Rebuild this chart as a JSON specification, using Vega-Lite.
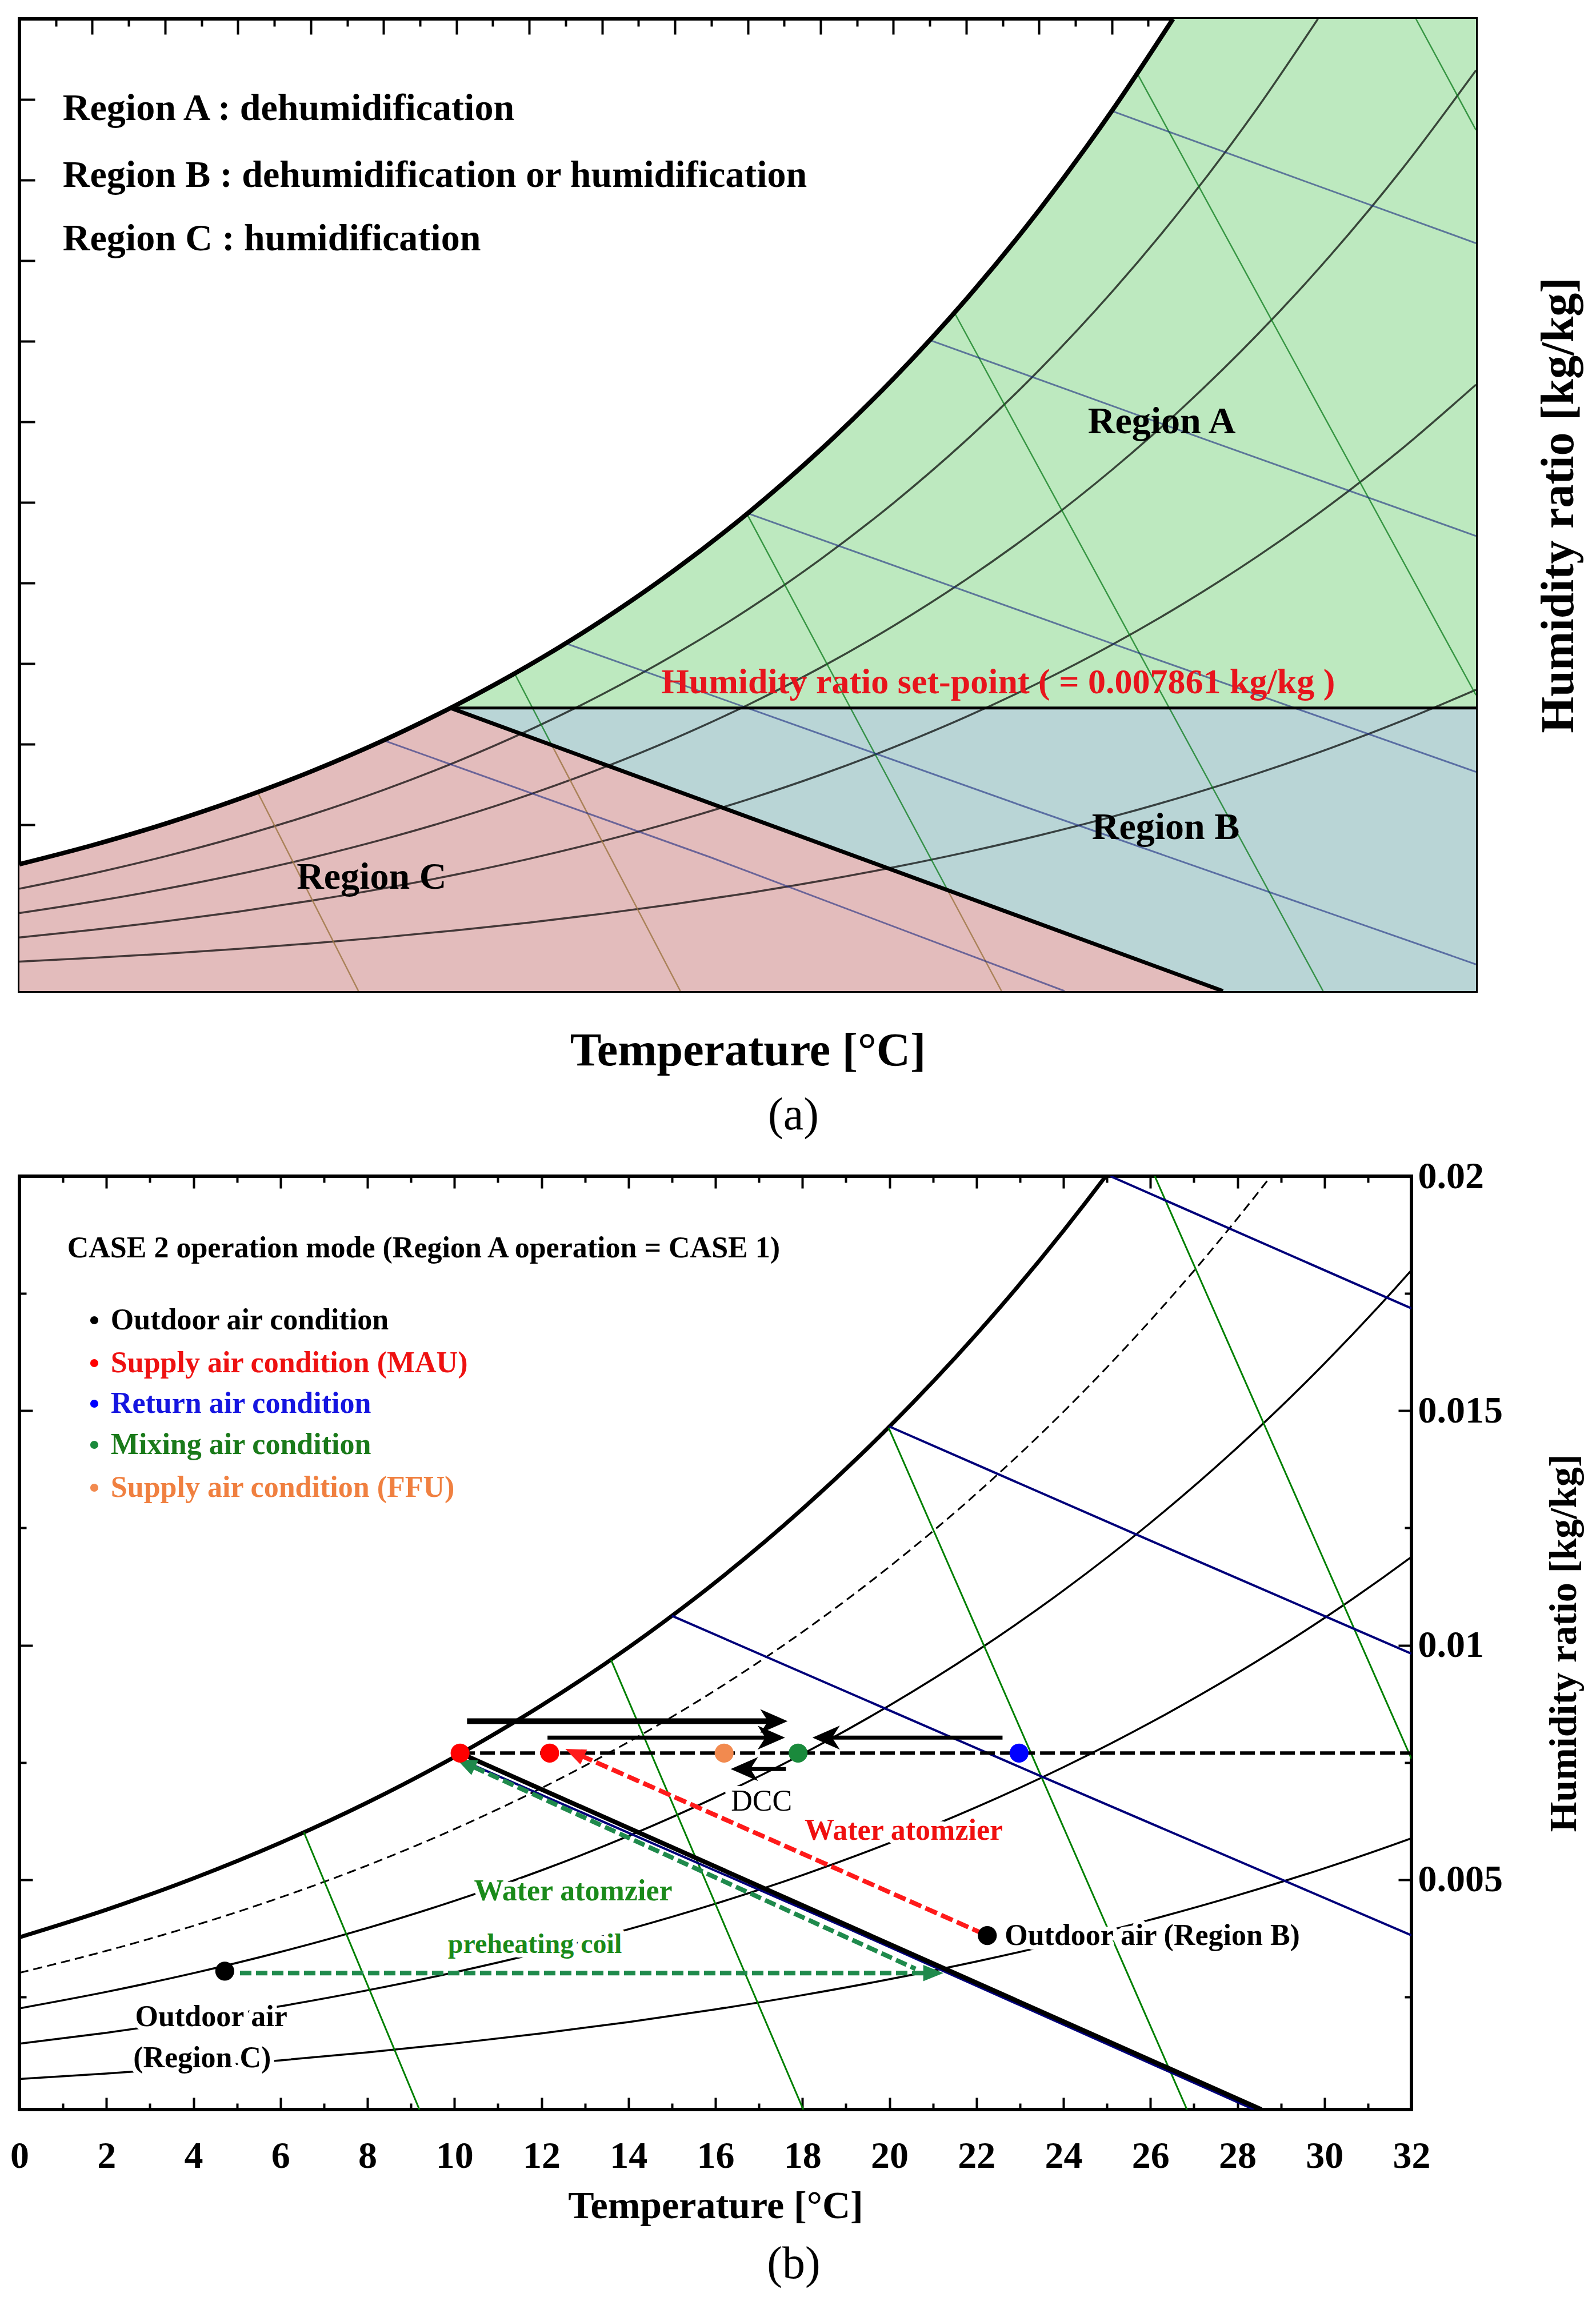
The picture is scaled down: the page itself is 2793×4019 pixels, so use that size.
{
"$schema":"https://vega.github.io/schema/vega-lite/v6.json",
"background":"white",
"padding":{"left":14,"top":28,"right":5,"bottom":5},
"spacing":27,
"resolve":{"scale":{"color":"independent"}},
"config":{
 "view":{"stroke":"black","strokeWidth":6},
 "axis":{"grid":false,"domain":false,"tickColor":"black","tickWidth":4,"labelFont":"Liberation Serif","labelFontWeight":"bold","labelColor":"black","titleFont":"Liberation Serif","titleFontWeight":"bold","titleColor":"black","labelFlush":false,"labelOverlap":false,"labelBound":false},
 "title":{"font":"Liberation Serif"}
},
"datasets":{
 "rh":[
  {"id":"100","T":0,"w":0.003773},{"id":"100","T":2,"w":0.004361},{"id":"100","T":4,"w":0.005029},{"id":"100","T":6,"w":0.005788},{"id":"100","T":8,"w":0.006647},{"id":"100","T":10,"w":0.007618},{"id":"100","T":12,"w":0.008715},{"id":"100","T":14,"w":0.009951},{"id":"100","T":16,"w":0.011342},{"id":"100","T":18,"w":0.012906},{"id":"100","T":20,"w":0.014662},{"id":"100","T":22,"w":0.01663},{"id":"100","T":24,"w":0.018835},{"id":"100","T":26,"w":0.021302},{"id":"100","T":28,"w":0.02406},{"id":"100","T":30,"w":0.027143},{"id":"100","T":31.68,"w":0.03},
  {"id":"80","T":0,"w":0.003015},{"id":"80","T":2,"w":0.003484},{"id":"80","T":4,"w":0.004017},{"id":"80","T":6,"w":0.004622},{"id":"80","T":8,"w":0.005306},{"id":"80","T":10,"w":0.00608},{"id":"80","T":12,"w":0.006953},{"id":"80","T":14,"w":0.007936},{"id":"80","T":16,"w":0.009041},{"id":"80","T":18,"w":0.010282},{"id":"80","T":20,"w":0.011674},{"id":"80","T":22,"w":0.013233},{"id":"80","T":24,"w":0.014977},{"id":"80","T":26,"w":0.016926},{"id":"80","T":28,"w":0.0191},{"id":"80","T":30,"w":0.021526},{"id":"80","T":32,"w":0.024228},{"id":"80","T":34,"w":0.027238},{"id":"80","T":35.66,"w":0.03},
  {"id":"60","T":0,"w":0.002258},{"id":"60","T":2,"w":0.002609},{"id":"60","T":4,"w":0.003008},{"id":"60","T":6,"w":0.00346},{"id":"60","T":8,"w":0.003971},{"id":"60","T":10,"w":0.004549},{"id":"60","T":12,"w":0.0052},{"id":"60","T":14,"w":0.005933},{"id":"60","T":16,"w":0.006756},{"id":"60","T":18,"w":0.00768},{"id":"60","T":20,"w":0.008715},{"id":"60","T":22,"w":0.009873},{"id":"60","T":24,"w":0.011166},{"id":"60","T":26,"w":0.012609},{"id":"60","T":28,"w":0.014216},{"id":"60","T":30,"w":0.016006},{"id":"60","T":32,"w":0.017996},{"id":"60","T":34,"w":0.020207},{"id":"60","T":36,"w":0.022661},{"id":"60","T":38,"w":0.025384},{"id":"60","T":40,"w":0.028403},
  {"id":"40","T":0,"w":0.001504},{"id":"40","T":2,"w":0.001737},{"id":"40","T":4,"w":0.002002},{"id":"40","T":6,"w":0.002302},{"id":"40","T":8,"w":0.002642},{"id":"40","T":10,"w":0.003025},{"id":"40","T":12,"w":0.003457},{"id":"40","T":14,"w":0.003943},{"id":"40","T":16,"w":0.004488},{"id":"40","T":18,"w":0.005099},{"id":"40","T":20,"w":0.005783},{"id":"40","T":22,"w":0.006547},{"id":"40","T":24,"w":0.0074},{"id":"40","T":26,"w":0.008349},{"id":"40","T":28,"w":0.009406},{"id":"40","T":30,"w":0.01058},{"id":"40","T":32,"w":0.011883},{"id":"40","T":34,"w":0.013327},{"id":"40","T":36,"w":0.014926},{"id":"40","T":38,"w":0.016696},{"id":"40","T":40,"w":0.018652},
  {"id":"20","T":0,"w":0.000751},{"id":"20","T":2,"w":0.000867},{"id":"20","T":4,"w":0.000999},{"id":"20","T":6,"w":0.001149},{"id":"20","T":8,"w":0.001318},{"id":"20","T":10,"w":0.001509},{"id":"20","T":12,"w":0.001724},{"id":"20","T":14,"w":0.001965},{"id":"20","T":16,"w":0.002236},{"id":"20","T":18,"w":0.002539},{"id":"20","T":20,"w":0.002878},{"id":"20","T":22,"w":0.003256},{"id":"20","T":24,"w":0.003678},{"id":"20","T":26,"w":0.004147},{"id":"20","T":28,"w":0.004668},{"id":"20","T":30,"w":0.005245},{"id":"20","T":32,"w":0.005885},{"id":"20","T":34,"w":0.006593},{"id":"20","T":36,"w":0.007375},{"id":"20","T":38,"w":0.008237},{"id":"20","T":40,"w":0.009188}
 ],
 "a_regions":[
  {"region":"A","T":11.84,"top":0.00862,"bot":0.00862},{"region":"A","T":12,"top":0.008715,"bot":0.00862},{"region":"A","T":14,"top":0.009951,"bot":0.00862},{"region":"A","T":16,"top":0.011342,"bot":0.00862},{"region":"A","T":18,"top":0.012906,"bot":0.00862},{"region":"A","T":20,"top":0.014662,"bot":0.00862},{"region":"A","T":22,"top":0.01663,"bot":0.00862},{"region":"A","T":24,"top":0.018835,"bot":0.00862},{"region":"A","T":26,"top":0.021302,"bot":0.00862},{"region":"A","T":28,"top":0.02406,"bot":0.00862},{"region":"A","T":30,"top":0.027143,"bot":0.00862},{"region":"A","T":31.68,"top":0.03,"bot":0.00862},{"region":"A","T":40,"top":0.03,"bot":0.00862},
  {"region":"B","T":11.84,"top":0.00862,"bot":0.00862},{"region":"B","T":33.05,"top":0.00862,"bot":-0.00016},{"region":"B","T":40,"top":0.00862,"bot":-0.00016},
  {"region":"C","T":0,"top":0.003773,"bot":-0.00016},{"region":"C","T":2,"top":0.004361,"bot":-0.00016},{"region":"C","T":4,"top":0.005029,"bot":-0.00016},{"region":"C","T":6,"top":0.005788,"bot":-0.00016},{"region":"C","T":8,"top":0.006647,"bot":-0.00016},{"region":"C","T":10,"top":0.007618,"bot":-0.00016},{"region":"C","T":11.84,"top":0.00862,"bot":-0.00016},{"region":"C","T":33.05,"top":-0.00016,"bot":-0.00016}
 ],
 "a_lines":[
  {"k":"h","id":"h10","T":10,"w":0.007618},{"k":"h","id":"h10","T":19,"w":0.00398},{"k":"h","id":"h10","T":28.7,"w":-0.00016},
  {"k":"h","id":"h15","T":15,"w":0.010627},{"k":"h","id":"h15","T":27.5,"w":0.005603},{"k":"h","id":"h15","T":40,"w":0.000669},
  {"k":"h","id":"h20","T":20,"w":0.014662},{"k":"h","id":"h20","T":30,"w":0.010621},{"k":"h","id":"h20","T":40,"w":0.006638},
  {"k":"h","id":"h25","T":25,"w":0.020034},{"k":"h","id":"h25","T":32.5,"w":0.016979},{"k":"h","id":"h25","T":40,"w":0.013958},
  {"k":"h","id":"h30","T":30,"w":0.027143},{"k":"h","id":"h30","T":35,"w":0.025085},{"k":"h","id":"h30","T":40,"w":0.023041},
  {"k":"vt","id":"v800","T":6.54,"w":0.00601},{"k":"vt","id":"v800","T":9.31,"w":-0.00016},
  {"k":"vg","id":"v825a","T":13.6,"w":0.00969},{"k":"vg","id":"v825a","T":14.62,"w":0.00747},
  {"k":"vt","id":"v825b","T":14.62,"w":0.00747},{"k":"vt","id":"v825b","T":18.15,"w":-0.00016},
  {"k":"vg","id":"v850a","T":19.98,"w":0.01464},{"k":"vg","id":"v850a","T":25.49,"w":0.00297},
  {"k":"vt","id":"v850b","T":25.49,"w":0.00297},{"k":"vt","id":"v850b","T":26.97,"w":-0.00016},
  {"k":"vg","id":"v875","T":25.67,"w":0.0209},{"k":"vg","id":"v875","T":35.8,"w":-0.00016},
  {"k":"vg","id":"v900","T":30.7,"w":0.0283},{"k":"vg","id":"v900","T":40,"w":0.00902},
  {"k":"vg","id":"v925","T":38.35,"w":0.03},{"k":"vg","id":"v925","T":40,"w":0.02655},
  {"k":"sp","id":"sp","T":11.84,"w":0.00862},{"k":"sp","id":"sp","T":40,"w":0.00862},
  {"k":"bd","id":"bd","T":11.84,"w":0.00862},{"k":"bd","id":"bd","T":33.05,"w":-0.00016}
 ],
 "a_text":[
  {"role":"list","T":1.19,"w":0.027225,"text":"Region A : dehumidification"},
  {"role":"list","T":1.19,"w":0.025141,"text":"Region B : dehumidification or humidification"},
  {"role":"list","T":1.19,"w":0.023182,"text":"Region C : humidification"},
  {"role":"region","T":31.37,"w":0.0175,"text":"Region A"},
  {"role":"region","T":31.48,"w":0.00491,"text":"Region B"},
  {"role":"region","T":9.67,"w":0.00337,"text":"Region C"},
  {"role":"setpoint","T":26.88,"w":0.00941,"text":"Humidity ratio set-point ( = 0.007861 kg/kg )"}
 ],
 "b_lines":[
  {"k":"h","id":"h10","T":10,"w":0.007618},{"k":"h","id":"h10","T":19,"w":0.00398},{"k":"h","id":"h10","T":28.38,"w":0.0001},
  {"k":"h","id":"h15","T":15,"w":0.010627},{"k":"h","id":"h15","T":23.5,"w":0.0072},{"k":"h","id":"h15","T":32,"w":0.003816},
  {"k":"h","id":"h20","T":20,"w":0.014662},{"k":"h","id":"h20","T":26,"w":0.01223},{"k":"h","id":"h20","T":32,"w":0.00982},
  {"k":"h","id":"h25","T":25.08,"w":0.02},{"k":"h","id":"h25","T":32,"w":0.017182},
  {"k":"v","id":"v800","T":6.54,"w":0.00601},{"k":"v","id":"v800","T":9.195,"w":0.0001},
  {"k":"v","id":"v825","T":13.6,"w":0.00969},{"k":"v","id":"v825","T":18.02,"w":0.0001},
  {"k":"v","id":"v850","T":19.98,"w":0.01464},{"k":"v","id":"v850","T":26.84,"w":0.0001},
  {"k":"v","id":"v875","T":26.1,"w":0.02},{"k":"v","id":"v875","T":32,"w":0.00758},
  {"k":"bd","id":"bd","T":10.13,"w":0.0077},{"k":"bd","id":"bd","T":28.55,"w":0.0001},
  {"k":"sp","id":"sp","T":10.13,"w":0.0077},{"k":"sp","id":"sp","T":32,"w":0.0077}
 ],
 "b_arrows":[
  {"k":"black1","id":"a1","T":10.29,"w":0.00838},{"k":"black1","id":"a1","T":17.3,"w":0.00838},
  {"k":"black","id":"a2","T":12.14,"w":0.00803},{"k":"black","id":"a2","T":17.25,"w":0.00803},
  {"k":"black","id":"a3","T":18.6,"w":0.00803},{"k":"black","id":"a3","T":22.6,"w":0.00803},
  {"k":"black","id":"a4","T":16.7,"w":0.00736},{"k":"black","id":"a4","T":17.62,"w":0.00736},
  {"k":"red","id":"r","T":12.9,"w":0.00765},{"k":"red","id":"r","T":22.25,"w":0.00381},
  {"k":"green","id":"g1","T":10.45,"w":0.0074},{"k":"green","id":"g1","T":20.6,"w":0.0031},
  {"k":"green","id":"g2","T":5.07,"w":0.00301},{"k":"green","id":"g2","T":20.8,"w":0.00301}
 ],
 "b_heads":[
  {"dir":"blackright","T":17.66,"w":0.00838},
  {"dir":"blackright","T":17.6,"w":0.00803},
  {"dir":"blackleft","T":18.23,"w":0.00803},
  {"dir":"blackleft","T":16.35,"w":0.00736},
  {"dir":"red","T":12.55,"w":0.00779},
  {"dir":"greendiag","T":10.05,"w":0.00757},
  {"dir":"greenright","T":21.24,"w":0.00301}
 ],
 "b_points":[
  {"state":"mau","T":10.13,"w":0.0077},{"state":"mau","T":12.19,"w":0.0077},{"state":"ffu","T":16.2,"w":0.0077},{"state":"mixing","T":17.9,"w":0.0077},{"state":"return","T":22.98,"w":0.0077},{"state":"outdoor","T":4.72,"w":0.00305},{"state":"outdoor","T":22.25,"w":0.00381}
 ],
 "b_legend":[
  {"state":"outdoor","Td":1.72,"Tt":2.1,"w":0.016929,"text":"Outdoor air condition"},
  {"state":"mau","Td":1.72,"Tt":2.1,"w":0.016015,"text":"Supply air condition (MAU)"},
  {"state":"return","Td":1.72,"Tt":2.1,"w":0.01515,"text":"Return air condition"},
  {"state":"mixing","Td":1.72,"Tt":2.1,"w":0.014272,"text":"Mixing air condition"},
  {"state":"ffu","Td":1.72,"Tt":2.1,"w":0.013359,"text":"Supply air condition (FFU)"}
 ],
 "b_notes":[
  {"role":"case","T":1.1,"w":0.018465,"text":"CASE 2 operation mode (Region A operation = CASE 1)"},
  {"role":"dcc","T":17.06,"w":0.006668,"text":"DCC"},
  {"role":"atomr","T":20.33,"w":0.006047,"text":"Water atomzier"},
  {"role":"oab","T":22.65,"w":0.003804,"text":"Outdoor air (Region B)"},
  {"role":"atomg","T":12.73,"w":0.004755,"text":"Water atomzier"},
  {"role":"preheat","T":11.85,"w":0.00361,"text":"preheating coil"},
  {"role":"oac","T":4.41,"w":0.002074,"text":"Outdoor air"},
  {"role":"oac","T":4.2,"w":0.001197,"text":"(Region C)"}
 ]
},
"vconcat":[
 {
  "width":2549,"height":1701,
  "title":{"text":"(a)","orient":"bottom","anchor":"middle","fontSize":80,"fontWeight":"normal","font":"Liberation Serif","color":"black","offset":34,"dx":80},
  "layer":[
   {"data":{"name":"a_regions"},"mark":{"type":"area","clip":true},
    "encoding":{
     "x":{"field":"T","type":"quantitative","scale":{"domain":[0,40],"nice":false,"zero":false},
      "axis":{"orient":"bottom","values":[0,1,2,3,4,5,6,7,8,9,10,11,12,13,14,15,16,17,18,19,20,21,22,23,24,25,26,27,28,29,30,31,32,33,34,35,36,37,38,39,40],"labels":false,"tickSize":{"condition":{"test":"datum.value % 2 === 0","value":-27},"value":-13},"title":"Temperature [°C]","titleFontSize":82,"titlePadding":62}},
     "y":{"field":"top","type":"quantitative","stack":null,"scale":{"domain":[-0.00016,0.03],"nice":false,"zero":false},
      "axis":{"orient":"right","values":[0,0.0025,0.005,0.0075,0.01,0.0125,0.015,0.0175,0.02,0.0225,0.025,0.0275,0.03],"labels":false,"tickSize":-27,"title":"Humidity ratio [kg/kg]","titleFontSize":82,"titleAngle":270,"titleBaseline":"top","titleAlign":"center","titlePadding":102}},
     "y2":{"field":"bot"},
     "color":{"field":"region","type":"nominal","scale":{"domain":["A","B","C"],"range":["#bde9bf","#b9d5d6","#e3bcbc"]},"legend":null}
    }},
   {"data":{"name":"rh"},"transform":[{"filter":"datum.id != '100'"}],
    "mark":{"type":"line","color":"black","opacity":0.7,"strokeWidth":3.5,"interpolate":"monotone","clip":true},
    "encoding":{
     "x":{"field":"T","type":"quantitative","axis":{"orient":"top","values":[0,1,2,3,4,5,6,7,8,9,10,11,12,13,14,15,16,17,18,19,20,21,22,23,24,25,26,27,28,29,30,31,32,33,34,35,36,37,38,39,40],"labels":false,"tickSize":{"condition":{"test":"datum.value % 2 === 0","value":-27},"value":-13},"title":null}},
     "y":{"field":"w","type":"quantitative","axis":{"orient":"left","values":[0,0.0025,0.005,0.0075,0.01,0.0125,0.015,0.0175,0.02,0.0225,0.025,0.0275,0.03],"labels":false,"tickSize":-27,"title":null}},
     "detail":{"field":"id","type":"nominal"}
    }},
   {"data":{"name":"a_lines"},"transform":[{"filter":"datum.k == 'vg'"}],
    "mark":{"type":"line","color":"#0a7a1a","opacity":0.75,"strokeWidth":2.5,"clip":true},
    "encoding":{"x":{"field":"T","type":"quantitative","axis":null},"y":{"field":"w","type":"quantitative","axis":null},"detail":{"field":"id","type":"nominal"}}},
   {"data":{"name":"a_lines"},"transform":[{"filter":"datum.k == 'vt'"}],
    "mark":{"type":"line","color":"#a07848","opacity":0.85,"strokeWidth":2.5,"clip":true},
    "encoding":{"x":{"field":"T","type":"quantitative","axis":null},"y":{"field":"w","type":"quantitative","axis":null},"detail":{"field":"id","type":"nominal"}}},
   {"data":{"name":"a_lines"},"transform":[{"filter":"datum.k == 'h'"}],
    "mark":{"type":"line","color":"#1a2a80","opacity":0.6,"strokeWidth":3,"clip":true},
    "encoding":{"x":{"field":"T","type":"quantitative","axis":null},"y":{"field":"w","type":"quantitative","axis":null},"detail":{"field":"id","type":"nominal"}}},
   {"data":{"name":"a_lines"},"transform":[{"filter":"datum.k == 'sp'"}],
    "mark":{"type":"line","color":"black","strokeWidth":5,"clip":true},
    "encoding":{"x":{"field":"T","type":"quantitative","axis":null},"y":{"field":"w","type":"quantitative","axis":null}}},
   {"data":{"name":"a_lines"},"transform":[{"filter":"datum.k == 'bd'"}],
    "mark":{"type":"line","color":"black","strokeWidth":7,"clip":true},
    "encoding":{"x":{"field":"T","type":"quantitative","axis":null},"y":{"field":"w","type":"quantitative","axis":null}}},
   {"data":{"name":"rh"},"transform":[{"filter":"datum.id == '100'"}],
    "mark":{"type":"line","color":"black","strokeWidth":8,"interpolate":"monotone","clip":true},
    "encoding":{"x":{"field":"T","type":"quantitative","axis":null},"y":{"field":"w","type":"quantitative","axis":null}}},
   {"data":{"name":"a_text"},"transform":[{"filter":"datum.role == 'list'"}],
    "mark":{"type":"text","align":"left","baseline":"middle","font":"Liberation Serif","fontWeight":"bold","fontSize":66,"color":"black"},
    "encoding":{"x":{"field":"T","type":"quantitative","axis":null},"y":{"field":"w","type":"quantitative","axis":null},"text":{"field":"text"}}},
   {"data":{"name":"a_text"},"transform":[{"filter":"datum.role == 'region'"}],
    "mark":{"type":"text","align":"center","baseline":"middle","font":"Liberation Serif","fontWeight":"bold","fontSize":66,"color":"black"},
    "encoding":{"x":{"field":"T","type":"quantitative","axis":null},"y":{"field":"w","type":"quantitative","axis":null},"text":{"field":"text"}}},
   {"data":{"name":"a_text"},"transform":[{"filter":"datum.role == 'setpoint'"}],
    "mark":{"type":"text","align":"center","baseline":"middle","font":"Liberation Serif","fontWeight":"bold","fontSize":62,"color":"#e8141c"},
    "encoding":{"x":{"field":"T","type":"quantitative","axis":null},"y":{"field":"w","type":"quantitative","axis":null},"text":{"field":"text"}}}
  ]
 },
 {
  "width":2436,"height":1633,
  "title":{"text":"(b)","orient":"bottom","anchor":"middle","fontSize":80,"fontWeight":"normal","font":"Liberation Serif","color":"black","offset":29,"dx":137},
  "resolve":{"scale":{"color":"independent"}},
  "layer":[
   {"data":{"name":"rh"},"transform":[{"filter":"datum.id == '100'"}],
    "mark":{"type":"line","color":"black","strokeWidth":7,"interpolate":"monotone","clip":true},
    "encoding":{
     "x":{"field":"T","type":"quantitative","scale":{"domain":[0,32],"nice":false,"zero":false},
      "axis":{"orient":"bottom","values":[0,1,2,3,4,5,6,7,8,9,10,11,12,13,14,15,16,17,18,19,20,21,22,23,24,25,26,27,28,29,30,31,32],"labelExpr":"datum.value % 2 === 0 ? datum.label : ''","labelFontSize":66,"labelPadding":70,"tickSize":{"condition":{"test":"datum.value % 2 === 0","value":-21},"value":-11},"title":"Temperature [°C]","titleFontSize":68,"titlePadding":11}},
     "y":{"field":"w","type":"quantitative","scale":{"domain":[0.0001,0.02],"nice":false,"zero":false},
      "axis":{"orient":"right","values":[0.0025,0.005,0.0075,0.01,0.0125,0.015,0.0175,0.02],"labelExpr":"abs(datum.value*200 - round(datum.value*200)) < 0.01 ? format(datum.value, '.3~f') : ''","labelFontSize":66,"labelPadding":34,"labelAlign":"left","labelBaseline":"middle","tickSize":{"condition":{"test":"abs(datum.value*200 - round(datum.value*200)) < 0.01","value":-23},"value":-12},"title":"Humidity ratio [kg/kg]","titleFontSize":68,"titleAngle":270,"titleBaseline":"top","titleAlign":"center","titlePadding":74}}
    }},
   {"data":{"name":"rh"},"transform":[{"filter":"datum.id == '80'"}],
    "mark":{"type":"line","color":"black","strokeWidth":3,"strokeDash":[16,9],"interpolate":"monotone","clip":true},
    "encoding":{
     "x":{"field":"T","type":"quantitative","axis":{"orient":"top","values":[0,1,2,3,4,5,6,7,8,9,10,11,12,13,14,15,16,17,18,19,20,21,22,23,24,25,26,27,28,29,30,31,32],"labels":false,"tickSize":{"condition":{"test":"datum.value % 2 === 0","value":-21},"value":-11},"title":null}},
     "y":{"field":"w","type":"quantitative","axis":{"orient":"left","values":[0.0025,0.005,0.0075,0.01,0.0125,0.015,0.0175,0.02],"labels":false,"tickSize":{"condition":{"test":"abs(datum.value*200 - round(datum.value*200)) < 0.01","value":-23},"value":-12},"title":null}}
    }},
   {"data":{"name":"rh"},"transform":[{"filter":"datum.id == '60' || datum.id == '40' || datum.id == '20'"}],
    "mark":{"type":"line","color":"black","strokeWidth":3.5,"interpolate":"monotone","clip":true},
    "encoding":{"x":{"field":"T","type":"quantitative","axis":null},"y":{"field":"w","type":"quantitative","axis":null},"detail":{"field":"id","type":"nominal"}}},
   {"data":{"name":"b_lines"},"transform":[{"filter":"datum.k == 'v'"}],
    "mark":{"type":"line","color":"#008000","strokeWidth":3,"clip":true},
    "encoding":{"x":{"field":"T","type":"quantitative","axis":null},"y":{"field":"w","type":"quantitative","axis":null},"detail":{"field":"id","type":"nominal"}}},
   {"data":{"name":"b_lines"},"transform":[{"filter":"datum.k == 'h'"}],
    "mark":{"type":"line","color":"#00007a","strokeWidth":4,"clip":true},
    "encoding":{"x":{"field":"T","type":"quantitative","axis":null},"y":{"field":"w","type":"quantitative","axis":null},"detail":{"field":"id","type":"nominal"}}},
   {"data":{"name":"b_lines"},"transform":[{"filter":"datum.k == 'bd'"}],
    "mark":{"type":"line","color":"black","strokeWidth":8,"clip":true},
    "encoding":{"x":{"field":"T","type":"quantitative","axis":null},"y":{"field":"w","type":"quantitative","axis":null}}},
   {"data":{"name":"b_lines"},"transform":[{"filter":"datum.k == 'sp'"}],
    "mark":{"type":"line","color":"black","strokeWidth":6,"strokeDash":[26,9],"clip":true},
    "encoding":{"x":{"field":"T","type":"quantitative","axis":null},"y":{"field":"w","type":"quantitative","axis":null}}},
   {"data":{"name":"b_arrows"},"transform":[{"filter":"datum.k == 'black1'"}],
    "mark":{"type":"line","color":"black","strokeWidth":10},
    "encoding":{"x":{"field":"T","type":"quantitative","axis":null},"y":{"field":"w","type":"quantitative","axis":null}}},
   {"data":{"name":"b_arrows"},"transform":[{"filter":"datum.k == 'black'"}],
    "mark":{"type":"line","color":"black","strokeWidth":7},
    "encoding":{"x":{"field":"T","type":"quantitative","axis":null},"y":{"field":"w","type":"quantitative","axis":null},"detail":{"field":"id","type":"nominal"}}},
   {"data":{"name":"b_arrows"},"transform":[{"filter":"datum.k == 'red'"}],
    "mark":{"type":"line","color":"#ff1a1a","strokeWidth":8,"strokeDash":[22,8]},
    "encoding":{"x":{"field":"T","type":"quantitative","axis":null},"y":{"field":"w","type":"quantitative","axis":null}}},
   {"data":{"name":"b_arrows"},"transform":[{"filter":"datum.k == 'green'"}],
    "mark":{"type":"line","color":"#1f8a4c","strokeWidth":8,"strokeDash":[20,8]},
    "encoding":{"x":{"field":"T","type":"quantitative","axis":null},"y":{"field":"w","type":"quantitative","axis":null},"detail":{"field":"id","type":"nominal"}}},
   {"data":{"name":"b_heads"},"transform":[{"filter":"datum.dir == 'blackright'"}],
    "mark":{"type":"point","shape":"M0,0L0.7,1.6L0,1.15L-0.7,1.6Z","size":3600,"angle":90,"filled":true,"color":"black","opacity":1},
    "encoding":{"x":{"field":"T","type":"quantitative","axis":null},"y":{"field":"w","type":"quantitative","axis":null}}},
   {"data":{"name":"b_heads"},"transform":[{"filter":"datum.dir == 'blackleft'"}],
    "mark":{"type":"point","shape":"M0,0L0.7,1.6L0,1.15L-0.7,1.6Z","size":3600,"angle":270,"filled":true,"color":"black","opacity":1},
    "encoding":{"x":{"field":"T","type":"quantitative","axis":null},"y":{"field":"w","type":"quantitative","axis":null}}},
   {"data":{"name":"b_heads"},"transform":[{"filter":"datum.dir == 'red'"}],
    "mark":{"type":"point","shape":"M0,0L0.65,1.6L-0.65,1.6Z","size":1936,"angle":294,"filled":true,"color":"#ff1a1a","opacity":1},
    "encoding":{"x":{"field":"T","type":"quantitative","axis":null},"y":{"field":"w","type":"quantitative","axis":null}}},
   {"data":{"name":"b_heads"},"transform":[{"filter":"datum.dir == 'greendiag'"}],
    "mark":{"type":"point","shape":"M0,0L0.65,1.6L-0.65,1.6Z","size":1936,"angle":295,"filled":true,"color":"#1f8a4c","opacity":1},
    "encoding":{"x":{"field":"T","type":"quantitative","axis":null},"y":{"field":"w","type":"quantitative","axis":null}}},
   {"data":{"name":"b_heads"},"transform":[{"filter":"datum.dir == 'greenright'"}],
    "mark":{"type":"point","shape":"M0,0L0.65,1.6L-0.65,1.6Z","size":1936,"angle":90,"filled":true,"color":"#1f8a4c","opacity":1},
    "encoding":{"x":{"field":"T","type":"quantitative","axis":null},"y":{"field":"w","type":"quantitative","axis":null}}},
   {"data":{"name":"b_notes"},"transform":[{"filter":"datum.role == 'dcc' || datum.role == 'atomr' || datum.role == 'atomg' || datum.role == 'oac'"}],
    "mark":{"type":"text","align":"center","baseline":"middle","font":"Liberation Serif","fontWeight":"bold","fontSize":52,"color":"white","stroke":"white","strokeWidth":16,"strokeJoin":"round"},
    "encoding":{"x":{"field":"T","type":"quantitative","axis":null},"y":{"field":"w","type":"quantitative","axis":null},"text":{"field":"text"}}},
   {"data":{"name":"b_notes"},"transform":[{"filter":"datum.role == 'preheat'"}],
    "mark":{"type":"text","align":"center","baseline":"middle","font":"Liberation Serif","fontWeight":"bold","fontSize":48,"color":"white","stroke":"white","strokeWidth":16,"strokeJoin":"round"},
    "encoding":{"x":{"field":"T","type":"quantitative","axis":null},"y":{"field":"w","type":"quantitative","axis":null},"text":{"field":"text"}}},
   {"data":{"name":"b_notes"},"transform":[{"filter":"datum.role == 'oab'"}],
    "mark":{"type":"text","align":"left","baseline":"middle","font":"Liberation Serif","fontWeight":"bold","fontSize":52,"color":"white","stroke":"white","strokeWidth":16,"strokeJoin":"round"},
    "encoding":{"x":{"field":"T","type":"quantitative","axis":null},"y":{"field":"w","type":"quantitative","axis":null},"text":{"field":"text"}}},
   {"data":{"name":"b_notes"},"transform":[{"filter":"datum.role == 'case' || datum.role == 'oab'"}],
    "mark":{"type":"text","align":"left","baseline":"middle","font":"Liberation Serif","fontWeight":"bold","fontSize":52,"color":"black"},
    "encoding":{"x":{"field":"T","type":"quantitative","axis":null},"y":{"field":"w","type":"quantitative","axis":null},"text":{"field":"text"}}},
   {"data":{"name":"b_notes"},"transform":[{"filter":"datum.role == 'oac'"}],
    "mark":{"type":"text","align":"center","baseline":"middle","font":"Liberation Serif","fontWeight":"bold","fontSize":52,"color":"black"},
    "encoding":{"x":{"field":"T","type":"quantitative","axis":null},"y":{"field":"w","type":"quantitative","axis":null},"text":{"field":"text"}}},
   {"data":{"name":"b_notes"},"transform":[{"filter":"datum.role == 'dcc'"}],
    "mark":{"type":"text","align":"center","baseline":"middle","font":"Liberation Serif","fontWeight":"normal","fontSize":52,"color":"black"},
    "encoding":{"x":{"field":"T","type":"quantitative","axis":null},"y":{"field":"w","type":"quantitative","axis":null},"text":{"field":"text"}}},
   {"data":{"name":"b_notes"},"transform":[{"filter":"datum.role == 'atomr'"}],
    "mark":{"type":"text","align":"center","baseline":"middle","font":"Liberation Serif","fontWeight":"bold","fontSize":52,"color":"#f01010"},
    "encoding":{"x":{"field":"T","type":"quantitative","axis":null},"y":{"field":"w","type":"quantitative","axis":null},"text":{"field":"text"}}},
   {"data":{"name":"b_notes"},"transform":[{"filter":"datum.role == 'atomg'"}],
    "mark":{"type":"text","align":"center","baseline":"middle","font":"Liberation Serif","fontWeight":"bold","fontSize":52,"color":"#1a8a1a"},
    "encoding":{"x":{"field":"T","type":"quantitative","axis":null},"y":{"field":"w","type":"quantitative","axis":null},"text":{"field":"text"}}},
   {"data":{"name":"b_notes"},"transform":[{"filter":"datum.role == 'preheat'"}],
    "mark":{"type":"text","align":"center","baseline":"middle","font":"Liberation Serif","fontWeight":"bold","fontSize":48,"color":"#1a8a1a"},
    "encoding":{"x":{"field":"T","type":"quantitative","axis":null},"y":{"field":"w","type":"quantitative","axis":null},"text":{"field":"text"}}},
   {"data":{"name":"b_points"},
    "mark":{"type":"point","shape":"circle","size":1100,"filled":true,"opacity":1},
    "encoding":{"x":{"field":"T","type":"quantitative","axis":null},"y":{"field":"w","type":"quantitative","axis":null},
     "color":{"field":"state","type":"nominal","scale":{"domain":["outdoor","mau","return","mixing","ffu"],"range":["#000000","#ff0000","#0000ff","#1a8a3c","#f28a4f"]},"legend":null}}},
   {"data":{"name":"b_legend"},
    "mark":{"type":"point","shape":"circle","size":200,"filled":true,"opacity":1},
    "encoding":{"x":{"field":"Td","type":"quantitative","axis":null},"y":{"field":"w","type":"quantitative","axis":null},
     "color":{"field":"state","type":"nominal","scale":{"domain":["outdoor","mau","return","mixing","ffu"],"range":["#000000","#ff0000","#0000ff","#1a8a3c","#f28a4f"]},"legend":null}}},
   {"data":{"name":"b_legend"},
    "mark":{"type":"text","align":"left","baseline":"middle","font":"Liberation Serif","fontWeight":"bold","fontSize":52},
    "encoding":{"x":{"field":"Tt","type":"quantitative","axis":null},"y":{"field":"w","type":"quantitative","axis":null},"text":{"field":"text"},
     "color":{"field":"state","type":"nominal","scale":{"domain":["outdoor","mau","return","mixing","ffu"],"range":["#000000","#ee1111","#1515e0","#1a7a1a","#f08040"]},"legend":null}}}
  ]
 }
]
}
